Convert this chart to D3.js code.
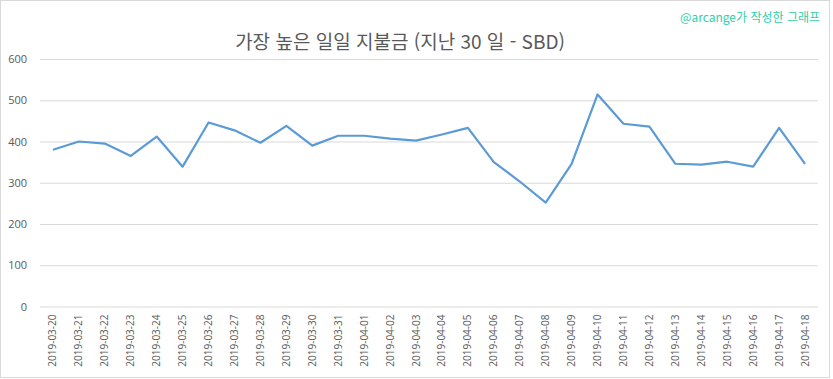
<!DOCTYPE html>
<html lang="ko">
<head>
<meta charset="UTF-8">
<script src="https://d3js.org/d3.v7.min.js"></script>
<style>
  body { margin: 0; background: #fff; font-family: "Noto Sans CJK KR", "Open Sans", sans-serif; }
  .y-axis text, .x-axis text { fill: #595959; font-family: "Open Sans", "DejaVu Sans", sans-serif; }
</style>
</head>
<body>
<svg id="chart"></svg>
<script>
  // data
  const dates = [
    "2019-03-20","2019-03-21","2019-03-22","2019-03-23","2019-03-24","2019-03-25",
    "2019-03-26","2019-03-27","2019-03-28","2019-03-29","2019-03-30","2019-03-31",
    "2019-04-01","2019-04-02","2019-04-03","2019-04-04","2019-04-05","2019-04-06",
    "2019-04-07","2019-04-08","2019-04-09","2019-04-10","2019-04-11","2019-04-12",
    "2019-04-13","2019-04-14","2019-04-15","2019-04-16","2019-04-17","2019-04-18"
  ];
  const payouts = [
    380, 400, 395, 365, 412, 339, 446, 427, 397, 438, 390, 414,
    414, 407, 402, 417, 433, 350, 303, 252, 346, 514, 443, 436,
    346, 344, 351, 339, 433, 346
  ];
  const yTicks = [0, 100, 200, 300, 400, 500, 600];
  const title = "가장 높은 일일 지불금 (지난 30 일 - SBD)";
  const credit = "@arcange가 작성한 그래프";

  const W = 833, H = 379;
  const m = { left: 40, right: 818, top: 59, bottom: 306.5 };

  const svg = d3.select("#chart").attr("width", W).attr("height", H);

  // outer frame
  svg.append("rect")
    .attr("x", 0.5).attr("y", 0.5)
    .attr("width", 829).attr("height", 377)
    .attr("fill", "#fff").attr("stroke", "#d9d9d9");

  const x = d3.scaleBand().domain(dates).range([m.left, m.right]);
  const y = d3.scaleLinear().domain([0, 600]).range([m.bottom, m.top]);

  // gridlines + y labels
  const yAxis = svg.append("g")
    .attr("class", "y-axis")
    .attr("transform", `translate(${m.left},0)`)
    .call(d3.axisLeft(y).tickValues(yTicks).tickSize(-(m.right - m.left)).tickPadding(13));
  yAxis.select(".domain").remove();
  yAxis.selectAll("line").attr("stroke", "#d9d9d9");
  yAxis.selectAll("text").style("font-size", "11px");

  // x labels
  const xAxis = svg.append("g")
    .attr("class", "x-axis")
    .attr("transform", `translate(0,${m.bottom})`)
    .call(d3.axisBottom(x).tickSize(0));
  xAxis.select(".domain").remove();
  xAxis.selectAll("text")
    .style("font-size", "10px")
    .attr("transform", "rotate(-90)")
    .attr("text-anchor", "end")
    .attr("x", -8)
    .attr("y", 0)
    .attr("dy", "0.35em");

  // line
  const line = d3.line()
    .x((d, i) => x(dates[i]) + x.bandwidth() / 2)
    .y(d => y(d));
  svg.append("path")
    .datum(payouts)
    .attr("d", line)
    .attr("fill", "none")
    .attr("stroke", "#5b9bd5")
    .attr("stroke-width", 2.2)
    .attr("stroke-linejoin", "round");

  // title
  svg.append("text")
    .attr("x", 400).attr("y", 49)
    .attr("text-anchor", "middle")
    .attr("fill", "#595959")
    .style("font-size", "19px")
    .text(title);

  svg.append("text")
    .attr("x", 820).attr("y", 22)
    .attr("text-anchor", "end")
    .attr("fill", "#2ecfa8")
    .style("font-size", "12px")
    .text(credit);
</script>
</body>
</html>
